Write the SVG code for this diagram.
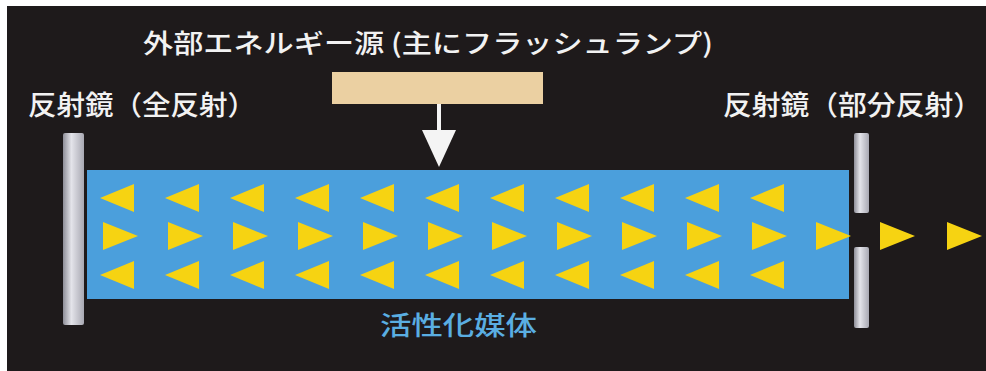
<svg xmlns="http://www.w3.org/2000/svg" width="986" height="371" viewBox="0 0 986 371">
<defs>
<linearGradient id="mir" x1="0" y1="0" x2="1" y2="0">
<stop offset="0" stop-color="#8e8e98"/>
<stop offset="0.4" stop-color="#e4e4ea"/>
<stop offset="1" stop-color="#a8a8b2"/>
</linearGradient>
<polygon id="tl" points="0,0 34,-14 34,14" fill="#f6d312"/>
<polygon id="tr" points="0,-14 35,0 0,14" fill="#f6d312"/>
</defs>
<style>
.lbl{font-family:"Noto Sans CJK JP","Noto Sans CJK SC",sans-serif;font-weight:500;fill:#f2f2f2}
.med{font-family:"Noto Sans CJK JP","Noto Sans CJK SC",sans-serif;font-weight:500;fill:#5aaee2}
</style>
<rect x="0" y="0" width="986" height="371" fill="#ffffff"/>
<rect x="7" y="6" width="979" height="365" fill="#1e1a1b"/>

<g id="medium">
<rect x="87" y="170" width="762" height="129" fill="#4b9fdc"/>
<text class="med" x="380" y="335" font-size="26" textLength="157" lengthAdjust="spacingAndGlyphs">活性化媒体</text>
</g>

<g id="mirror-left">
<rect x="63" y="133" width="21" height="192" rx="2" fill="url(#mir)"/>
<text class="lbl" x="28" y="115" font-size="27" textLength="228" lengthAdjust="spacingAndGlyphs">反射鏡（全反射）</text>
</g>

<g id="mirror-right">
<rect x="854" y="133" width="15" height="80" rx="2" fill="url(#mir)"/>
<rect x="854" y="247" width="15" height="81" rx="2" fill="url(#mir)"/>
<text class="lbl" x="723" y="115" font-size="27" textLength="259" lengthAdjust="spacingAndGlyphs">反射鏡（部分反射）</text>
</g>

<g id="lamp">
<rect x="332" y="72" width="211" height="32" fill="#ebd0a2"/>
<text class="lbl" x="143" y="53" font-size="26" textLength="570" lengthAdjust="spacingAndGlyphs">外部エネルギー源 (主にフラッシュランプ)</text>
</g>

<g id="connectors">
<rect x="437" y="104" width="4" height="27" fill="#f4f4f4"/>
<polygon points="422,130 456,130 439,167" fill="#f4f4f4"/>
</g>

<g id="photons-top">
<use href="#tl" x="100" y="198"/><use href="#tl" x="165" y="198"/><use href="#tl" x="230" y="198"/><use href="#tl" x="295" y="198"/><use href="#tl" x="360" y="198"/><use href="#tl" x="425" y="198"/><use href="#tl" x="490" y="198"/><use href="#tl" x="555" y="198"/><use href="#tl" x="620" y="198"/><use href="#tl" x="685" y="198"/><use href="#tl" x="750" y="198"/>
</g>
<g id="photons-middle">
<use href="#tr" x="103" y="236"/><use href="#tr" x="168" y="236"/><use href="#tr" x="233" y="236"/><use href="#tr" x="298" y="236"/><use href="#tr" x="363" y="236"/><use href="#tr" x="428" y="236"/><use href="#tr" x="492" y="236"/><use href="#tr" x="557" y="236"/><use href="#tr" x="622" y="236"/><use href="#tr" x="687" y="236"/><use href="#tr" x="752" y="236"/><use href="#tr" x="816" y="236"/><use href="#tr" x="880" y="236"/><use href="#tr" x="947" y="236"/>
</g>
<g id="photons-bottom">
<use href="#tl" x="100" y="275"/><use href="#tl" x="165" y="275"/><use href="#tl" x="230" y="275"/><use href="#tl" x="295" y="275"/><use href="#tl" x="360" y="275"/><use href="#tl" x="425" y="275"/><use href="#tl" x="490" y="275"/><use href="#tl" x="555" y="275"/><use href="#tl" x="620" y="275"/><use href="#tl" x="685" y="275"/><use href="#tl" x="750" y="275"/>
</g>
</svg>
